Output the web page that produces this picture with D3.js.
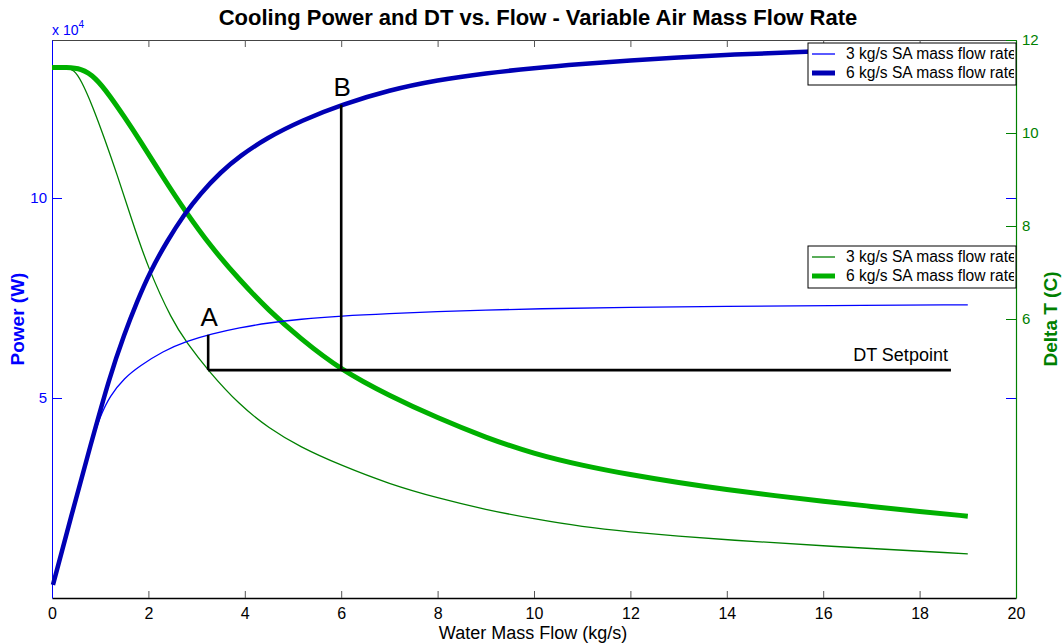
<!DOCTYPE html>
<html><head><meta charset="utf-8">
<script src="https://cdn.jsdelivr.net/npm/d3@7"></script>
<style>body{margin:0;background:#fff}svg{display:block;font-family:"Liberation Sans",Arial,sans-serif}</style>
</head><body><svg id="c" width="1064" height="643"></svg>
<script>
// Water mass flow (kg/s) sample points and values
const flow3P = [0.02,0.4,0.79,1.0,1.2,1.5,1.82,2.3,2.79,3.3,3.89,4.5,5.14,6,7,8,9,10,12,14,16,19];
const power3 = [0.33,2.05,3.78,4.55,5.05,5.5,5.8,6.17,6.42,6.6,6.76,6.88,6.97,7.05,7.11,7.16,7.2,7.23,7.27,7.29,7.31,7.33]; // x 10^4 W
const flow6P = [0.02,0.4,0.79,1.2,1.5,1.76,2.03,2.4,2.75,3.07,3.5,3.9,4.45,5.2,6,7,8,9,10,11,12,13,14,16,19];
const power6 = [0.33,2.05,3.78,5.55,6.6,7.4,8.15,8.95,9.6,10.1,10.65,11.05,11.5,11.95,12.33,12.7,12.95,13.12,13.25,13.35,13.44,13.51,13.58,13.68,13.78];
const flow6T = [0,0.3,0.6,0.9,1.2,1.5,1.82,2.3,2.75,3.3,3.89,4.5,5.14,6,7,8,9,10,11,12,13,14,15,16,17,18,19];
const dt6 = [11.41,11.41,11.39,11.2,10.8,10.35,9.85,9.05,8.34,7.55,6.84,6.18,5.59,4.9,4.35,3.87,3.45,3.1,2.85,2.65,2.48,2.33,2.2,2.08,1.97,1.86,1.76];
const flow3T = [0,0.3,0.45,0.6,0.85,1.1,1.34,1.65,1.99,2.5,2.79,3.23,3.89,4.5,5.14,6,7,8,9,10,11,12,13,14,16,19];
const dt3 = [11.41,11.41,11.36,11.15,10.56,9.85,9.14,8.15,7.1,5.95,5.5,4.9,4.15,3.65,3.25,2.85,2.45,2.15,1.9,1.7,1.53,1.42,1.33,1.25,1.12,0.95];
const xTicks = [0,2,4,6,8,10,12,14,16,18,20];
const powerTicks = [5,10];
const dtTicks = [6,8,10,12];
const dtSetpoint = 4.9;
const pointA = {label:"A", flow:3.24, power:6.58};
const pointB = {label:"B", flow:6.0, power:12.33};
const setpointEnd = 18.65;
const legendLabels = ["3 kg/s SA mass flow rate","6 kg/s SA mass flow rate"];
const title = "Cooling Power and DT vs. Flow - Variable Air Mass Flow Rate";

const svg = d3.select("#c");
const L=52, R=1016, T=40, B=598;
const x = d3.scaleLinear().domain([0,20]).range([L,R]);
const yP = d3.scaleLinear().domain([0,13.95]).range([B,T]);
const yT = d3.scaleLinear().domain([0,12]).range([B,T]);

const BLUE="#0000ff", BLUE2="#0000b4", GREEN="#008000", GREEN2="#00b000";

// axes
const gx = svg.append("g").attr("transform",`translate(0,${B})`)
  .call(d3.axisBottom(x).tickValues(xTicks).tickSizeInner(-7).tickSizeOuter(0).tickPadding(10));
gx.select(".domain").attr("stroke","#000").attr("stroke-width",1.3);
gx.selectAll(".tick line").attr("stroke","#555");
gx.selectAll("text").attr("font-size",16).attr("fill","#000").attr("font-family","Liberation Sans, Arial");

const gt = svg.append("g").attr("transform",`translate(0,${T})`)
  .call(d3.axisTop(x).tickValues(xTicks).tickSizeInner(-7).tickSizeOuter(0).tickFormat(""));
gt.select(".domain").attr("stroke","#444").attr("stroke-width",1);
gt.selectAll(".tick line").attr("stroke","#555");

const gl = svg.append("g").attr("transform",`translate(${L},0)`)
  .call(d3.axisLeft(yP).tickValues(powerTicks).tickSizeInner(-10).tickSizeOuter(0).tickPadding(5).tickFormat(d3.format("d")));
gl.select(".domain").attr("stroke",BLUE).attr("stroke-width",1);
gl.selectAll(".tick line").attr("stroke",BLUE);
gl.selectAll("text").attr("font-size",15).attr("fill",BLUE).attr("font-family","Liberation Sans, Arial");

const grp = svg.append("g").attr("transform",`translate(${R},0)`)
  .call(d3.axisRight(yP).tickValues(powerTicks).tickSizeInner(-10).tickSizeOuter(0).tickFormat(""));
grp.select(".domain").remove();
grp.selectAll(".tick line").attr("stroke",BLUE);

const gr = svg.append("g").attr("transform",`translate(${R},0)`)
  .call(d3.axisRight(yT).tickValues(dtTicks).tickSizeInner(-10).tickSizeOuter(0).tickPadding(6).tickFormat(d3.format("d")));
gr.select(".domain").attr("stroke",GREEN).attr("stroke-width",1.2);
gr.selectAll(".tick line").attr("stroke",GREEN);
gr.selectAll("text").attr("font-size",15).attr("fill",GREEN).attr("font-family","Liberation Sans, Arial");

// lines
const line = (xs,ys,yScale)=> d3.line().curve(d3.curveBasis)(xs.map((v,i)=>[x(v),yScale(ys[i])]));
const plot = svg.append("g");
plot.append("path").attr("d",line(flow3T,dt3,yT)).attr("fill","none").attr("stroke",GREEN).attr("stroke-width",1.3);
plot.append("path").attr("d",line(flow6T,dt6,yT)).attr("fill","none").attr("stroke",GREEN2).attr("stroke-width",5);
plot.append("path").attr("d",line(flow3P,power3,yP)).attr("fill","none").attr("stroke",BLUE).attr("stroke-width",1.3);
plot.append("path").attr("d",line(flow6P,power6,yP)).attr("fill","none").attr("stroke",BLUE2).attr("stroke-width",4.5);

// annotations
const ySet = yT(dtSetpoint);
plot.append("line").attr("x1",x(pointA.flow)).attr("x2",x(setpointEnd)).attr("y1",ySet).attr("y2",ySet).attr("stroke","#000").attr("stroke-width",2.6);
[pointA,pointB].forEach(p=>{
  plot.append("line").attr("x1",x(p.flow)).attr("x2",x(p.flow)).attr("y1",ySet).attr("y2",yP(p.power)).attr("stroke","#000").attr("stroke-width",2.6);
  svg.append("text").attr("x",x(p.flow)+1).attr("y",yP(p.power)-9).attr("text-anchor","middle").attr("font-size",26).text(p.label);
});
svg.append("text").attr("x",x(setpointEnd)-3).attr("y",ySet-9).attr("text-anchor","end").attr("font-size",18).text("DT Setpoint");

// legends
function legend(top, color1, color2, id){
  const bx=808, bw=208, bh=42;
  svg.append("clipPath").attr("id",id).append("rect").attr("x",bx).attr("y",top).attr("width",bw-2).attr("height",bh);
  svg.append("rect").attr("x",bx).attr("y",top).attr("width",bw).attr("height",bh).attr("fill","#fff").attr("stroke","#000").attr("stroke-width",1);
  const g = svg.append("g").attr("clip-path",`url(#${id})`);
  [[color1,1.3],[color2,5]].forEach((c,i)=>{
    const yy = top+11+i*19;
    svg.append("line").attr("x1",812).attr("x2",835).attr("y1",yy).attr("y2",yy).attr("stroke",c[0]).attr("stroke-width",c[1]);
    g.append("text").attr("x",846).attr("y",yy+5).attr("font-size",15.6).text(legendLabels[i]);
  });
}
legend(43, BLUE, BLUE2, "clip1");
legend(246, GREEN, GREEN2, "clip2");

// titles
svg.append("text").attr("x",538).attr("y",25).attr("text-anchor","middle").attr("font-size",22).attr("font-weight","bold").text(title);
const xl = svg.append("text").attr("x",52).attr("y",35).attr("fill",BLUE).attr("font-size",14);
xl.append("tspan").text("x 10");
xl.append("tspan").attr("dy",-7).attr("font-size",10).text("4");
svg.append("text").attr("x",533).attr("y",639).attr("text-anchor","middle").attr("font-size",18).text("Water Mass Flow (kg/s)");
svg.append("text").attr("transform","translate(24,319) rotate(-90)").attr("text-anchor","middle").attr("font-size",19).attr("font-weight","bold").attr("fill",BLUE).text("Power (W)");
svg.append("text").attr("transform","translate(1057,319) rotate(-90)").attr("text-anchor","middle").attr("font-size",19).attr("font-weight","bold").attr("fill",GREEN).text("Delta T (C)");
</script></body></html>
